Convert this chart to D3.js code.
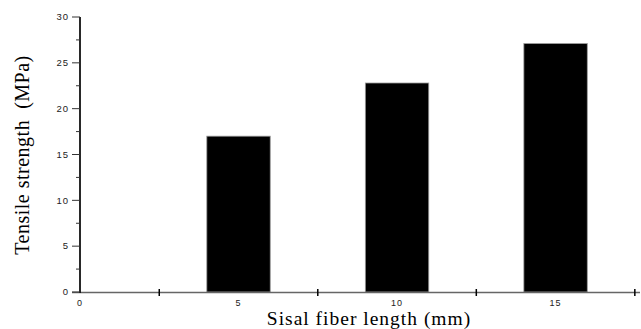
<!DOCTYPE html>
<html>
<head>
<meta charset="utf-8">
<script src="https://cdn.jsdelivr.net/npm/d3@7"></script>
<style>
  body { margin: 0; background: #fff; }
  svg { display: block; }
</style>
</head>
<body>
<svg id="chart"></svg>
<script>
const lengths = [5, 10, 15]
const strengths = [17.0, 22.8, 27.1]
const xLabels = [0, 5, 10, 15]
const xTicks = [2.5, 7.5, 12.5, 17.5]
const yLabels = [0, 5, 10, 15, 20, 25, 30]
const yMinor = [2.5, 7.5, 12.5, 17.5, 22.5, 27.5]

const w = 641
const h = 329
const padLeft = 80
const padRight = 638
const padTop = 17
const padBottom = 292
const barWidth = 2

const svg = d3.select('#chart').attr('width', w).attr('height', h)

const x = d3.scaleLinear().domain([0, 17.6]).range([padLeft, padRight])
const y = d3.scaleLinear().domain([0, 30]).range([padBottom, padTop])

// bars
svg
  .append('g')
  .selectAll('rect')
  .data(lengths)
  .join('rect')
  .attr('x', (d) => x(d - barWidth / 2))
  .attr('width', (d) => x(barWidth) - x(0))
  .attr('y', (d, i) => y(strengths[i]))
  .attr('height', (d, i) => y(0) - y(strengths[i]))
  .attr('fill', '#000')
  .attr('stroke', '#999')
  .attr('stroke-width', 0.8)

// x axis: ticks between labels, labels without ticks
const xAxis = svg.append('g')
xAxis
  .append('line')
  .attr('x1', 72)
  .attr('x2', padRight + 2)
  .attr('y1', padBottom + 0.5)
  .attr('y2', padBottom + 0.5)
  .attr('stroke', '#666')
  .attr('stroke-width', 1.5)
xAxis
  .selectAll('line.tick')
  .data(xTicks)
  .join('line')
  .attr('class', 'tick')
  .attr('x1', (d) => x(d))
  .attr('x2', (d) => x(d))
  .attr('y1', padBottom - 3)
  .attr('y2', padBottom + 4)
  .attr('stroke', '#000')
  .attr('stroke-width', 1.5)
xAxis
  .selectAll('text')
  .data(xLabels)
  .join('text')
  .attr('x', (d) => x(d))
  .attr('y', padBottom + 14)
  .attr('text-anchor', 'middle')
  .style('font-family', 'Liberation Sans, Arial, sans-serif')
  .style('font-size', '9px')
  .style('letter-spacing', '1px')
  .attr('fill', '#222')
  .text((d) => d)

// y axis
const yAxis = svg.append('g')
yAxis
  .append('line')
  .attr('x1', padLeft)
  .attr('x2', padLeft)
  .attr('y1', padTop)
  .attr('y2', padBottom + 1)
  .attr('stroke', '#111')
  .attr('stroke-width', 1.8)
yAxis
  .selectAll('line.major')
  .data(yLabels)
  .join('line')
  .attr('class', 'major')
  .attr('x1', 72)
  .attr('x2', padLeft)
  .attr('y1', (d) => y(d))
  .attr('y2', (d) => y(d))
  .attr('stroke', '#333')
  .attr('stroke-width', 1)
yAxis
  .selectAll('line.minor')
  .data(yMinor)
  .join('line')
  .attr('class', 'minor')
  .attr('x1', 76)
  .attr('x2', padLeft)
  .attr('y1', (d) => y(d))
  .attr('y2', (d) => y(d))
  .attr('stroke', '#333')
  .attr('stroke-width', 1)
yAxis
  .selectAll('text')
  .data(yLabels)
  .join('text')
  .attr('x', 69)
  .attr('y', (d) => y(d))
  .attr('dy', '0.35em')
  .attr('text-anchor', 'end')
  .style('font-family', 'Liberation Sans, Arial, sans-serif')
  .style('font-size', '9.5px')
  .style('letter-spacing', '1px')
  .attr('fill', '#222')
  .text((d) => d)

// titles
svg
  .append('text')
  .attr('x', 369)
  .attr('y', 325)
  .attr('text-anchor', 'middle')
  .style('font-family', 'Liberation Serif, Times New Roman, serif')
  .style('font-size', '19.5px')
  .style('letter-spacing', '1px')
  .attr('fill', '#000')
  .text('Sisal fiber length (mm)')

svg
  .append('text')
  .attr('transform', 'translate(29,155) rotate(-90)')
  .attr('text-anchor', 'middle')
  .style('font-family', 'Liberation Serif, Times New Roman, serif')
  .style('font-size', '20px')
  .style('letter-spacing', '0.5px')
  .style('white-space', 'pre')
  .attr('fill', '#000')
  .text('Tensile strength  (MPa)')
</script>
</body>
</html>
